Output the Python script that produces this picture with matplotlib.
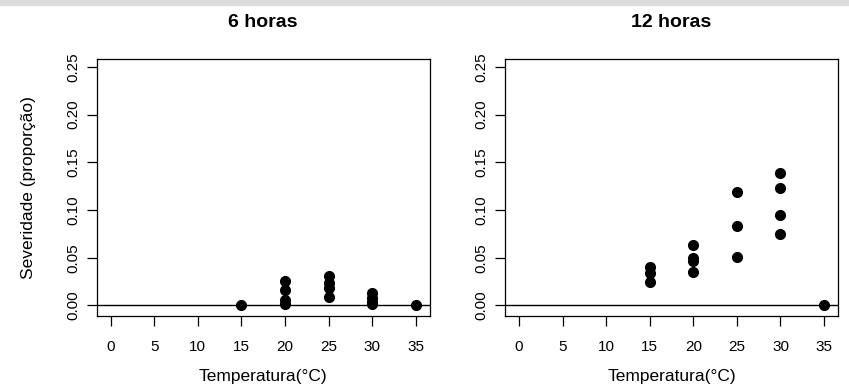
import matplotlib
matplotlib.use('Agg')
import matplotlib.pyplot as plt
from matplotlib.patches import Rectangle

plt.rcParams['font.family'] = ['Liberation Sans', 'DejaVu Sans']

# 6 horas
temp6 = [15, 20, 20, 20, 20, 25, 25, 25, 25, 30, 30, 30, 30, 35]
sev6 = [0.0, 0.026, 0.016, 0.006, 0.002, 0.031, 0.024, 0.018, 0.009,
        0.013, 0.008, 0.004, 0.001, 0.0]

# 12 horas
temp12 = [15, 15, 15, 20, 20, 20, 20, 25, 25, 25, 30, 30, 30, 30, 35]
sev12 = [0.040, 0.034, 0.025, 0.063, 0.050, 0.047, 0.035, 0.119, 0.083, 0.051,
         0.139, 0.123, 0.095, 0.075, 0.0]

titles = ['6 horas', '12 horas']
xticks = [0, 5, 10, 15, 20, 25, 30, 35]
yticks = [0.00, 0.05, 0.10, 0.15, 0.20, 0.25]

fig = plt.figure(figsize=(8.49, 3.9), dpi=100)
fig.patches.append(Rectangle((0, 0.987), 1, 0.013, transform=fig.transFigure,
                             color='#dcdcdc', zorder=0))

ax1 = fig.add_axes([0.114, 0.190, 0.392, 0.659])
ax2 = fig.add_axes([0.595, 0.190, 0.392, 0.659])

for ax, x, y, t in [(ax1, temp6, sev6, titles[0]), (ax2, temp12, sev12, titles[1])]:
    ax.plot(x, y, 'o', color='black', markersize=7, clip_on=False, zorder=3)
    ax.axhline(0, color='black', lw=1)
    ax.set_xlim(-1.6, 36.6)
    ax.set_ylim(-0.011, 0.2585)
    ax.set_xticks(xticks)
    ax.set_xticklabels([str(v) for v in xticks], fontsize=11)
    ax.set_yticks(yticks)
    ax.set_yticklabels(['%.2f' % v for v in yticks], fontsize=11, rotation=90, va='center')
    ax.tick_params(direction='out', length=7, width=0.9, pad=10)
    ax.tick_params(axis='y', pad=5)
    for s in ax.spines.values():
        s.set_linewidth(0.9)
    ax.set_title(t, fontsize=14, fontweight='bold', pad=23)
    ax.set_xlabel('Temperatura(°C)', fontsize=12.5, va='top')
    ax.xaxis.set_label_coords(0.5, -0.205)

ax1.set_ylabel('Severidade (proporção)', fontsize=12.5, va='center')
ax1.yaxis.set_label_coords(-0.204, 0.5)

fig.savefig('out.png', dpi=100)
